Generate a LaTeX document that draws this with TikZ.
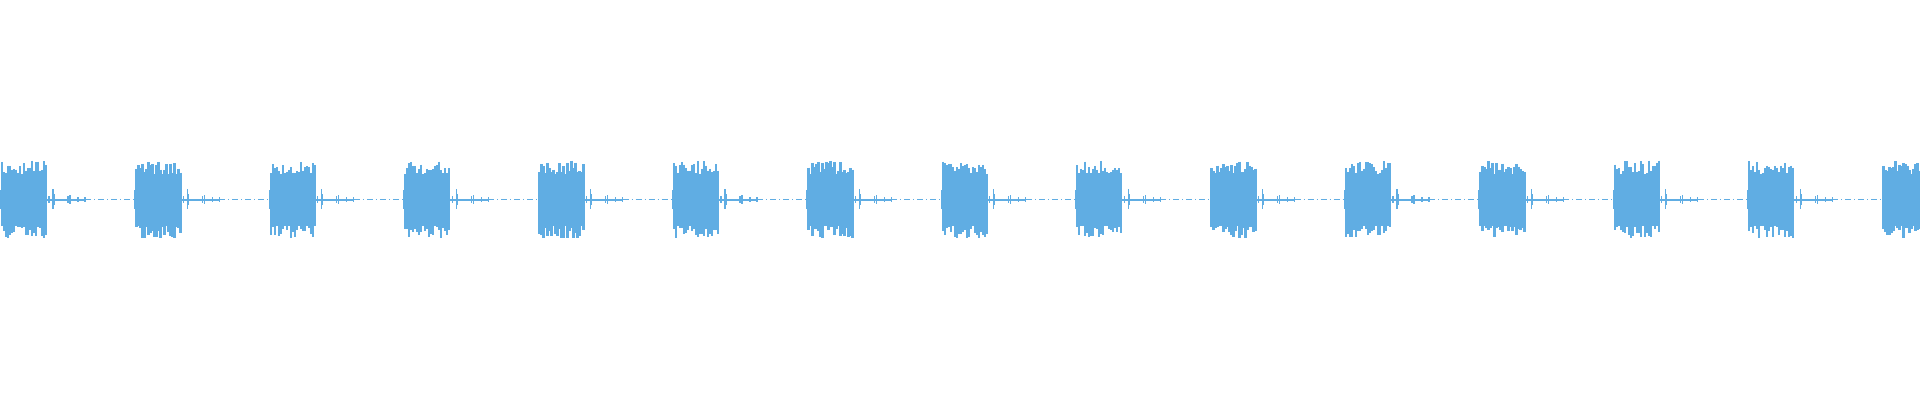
\documentclass[tikz,border=0pt]{standalone}
\definecolor{wave}{RGB}{96,173,227}
\begin{document}
\begin{tikzpicture}[x=1pt,y=-1pt,wv/.style={draw=wave,line width=1.3pt},sp/.style={draw=wave,line width=2.4pt},thin line/.style={draw=wave,line width=1pt,dash pattern=on 6pt off 3pt on 1pt off 3pt}]
\useasboundingbox (0,0) rectangle (1920,400);
\pgfmathsetseed{7}
\foreach \k in {0,...,14}{
  \pgfmathsetmacro{\xo}{134.4*\k}
  \fill[wave] (\xo+1,199.5-26) rectangle (\xo+47,199.5+26);
  \draw[wv] (\xo+0.6,190) -- (\xo+0.6,209);
  \foreach \i in {2,4,...,46}{
    \pgfmathsetmacro{\a}{25+rnd*14}
    \pgfmathsetmacro{\b}{25+rnd*14}
    \draw[sp] (\xo+\i,199.5-\a) -- (\xo+\i,199.5+\b);
  }
  \draw[wave,line width=2pt] (\xo+47,199.5) -- (\xo+85,199.5);
  \draw[wv] (\xo+49,196) -- (\xo+49,203);
  \draw[wv] (\xo+53,189) -- (\xo+53,209);
  \draw[wv] (\xo+54,194) -- (\xo+54,205);
  \draw[wv] (\xo+68,196) -- (\xo+68,203);
  \draw[wv] (\xo+70,195) -- (\xo+70,204);
  \draw[wv] (\xo+78,197) -- (\xo+78,202);
  \draw[wv] (\xo+85,197) -- (\xo+85,202);
  \ifnum\k<14
    \draw[thin line] (\xo+85,199.5) -- (\xo+134,199.5);
  \fi
}
\end{tikzpicture}
\end{document}
